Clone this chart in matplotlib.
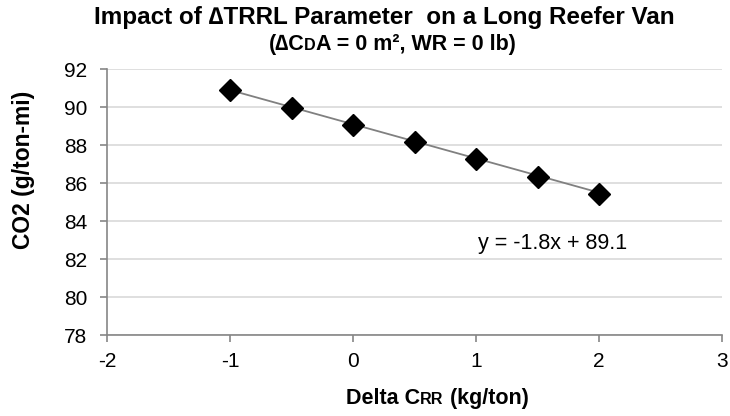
import matplotlib
matplotlib.use("Agg")
import matplotlib.pyplot as plt
from matplotlib.offsetbox import TextArea, HPacker, AnchoredOffsetbox

# ============================== Data

delta_crr = [-1.0, -0.5, 0.0, 0.5, 1.0, 1.5, 2.0]
co2 = [90.88, 89.98, 89.06, 88.14, 87.25, 86.33, 85.42]
slope, intercept = -1.8, 89.1
x_ticks = [-2, -1, 0, 1, 2, 3]
y_ticks = [78, 80, 82, 84, 86, 88, 90, 92]

plt.rcParams["font.family"] = ["Liberation Sans", "DejaVu Sans"]


def small_caps_label(fig, parts, xy, size):
    """Pack text pieces (texte, taille relative) on one baseline."""
    boxes = [TextArea(t, textprops=dict(fontsize=size * r, fontweight="bold"))
             for t, r in parts]
    pack = HPacker(children=boxes, align="baseline", pad=0, sep=0)
    box = AnchoredOffsetbox(loc="center", child=pack, frameon=False,
                            bbox_to_anchor=xy, bbox_transform=fig.transFigure,
                            pad=0, borderpad=0)
    fig.add_artist(box)


fig = plt.figure(figsize=(7.3, 4.16), dpi=100)
ax = fig.add_axes([0.1466, 0.1947, 0.8425, 0.639])

# trendline + points
xs = [delta_crr[0], delta_crr[-1]]
ax.plot(xs, [slope * x + intercept for x in xs], color="#808080", lw=1.3, zorder=2)
ax.plot(delta_crr, co2, linestyle="none", marker="D", ms=11, color="black", zorder=3)

ax.text(1.62, 82.8, "y = -1.8x + 89.1", fontsize=15.5, ha="center", va="center")

ax.set_xlim(-2, 3)
ax.set_ylim(78, 92)
ax.set_xticks(x_ticks)
ax.set_yticks(y_ticks)
ax.set_xticklabels([str(t) for t in x_ticks], fontsize=15)
ax.set_yticklabels([str(t) for t in y_ticks], fontsize=15)
ax.grid(axis="y", color="#d9d9d9", lw=1.2)
ax.set_axisbelow(True)
for s in ["top", "right"]:
    ax.spines[s].set_visible(False)
for s in ["left", "bottom"]:
    ax.spines[s].set_color("#868686")
    ax.spines[s].set_linewidth(1.2)
ax.tick_params(colors="#868686", labelcolor="black", length=5, width=1.2)
ax.tick_params(axis="y", pad=9)
ax.tick_params(axis="x", pad=7)

fig.text(24 / 730, 0.591, "CO2 (g/ton-mi)", rotation=90, ha="center", va="center",
         fontsize=16.5, fontweight="bold")

fig.text(0.527, 0.957, "Impact of \u2206TRRL Parameter  on a Long Reefer Van",
         ha="center", va="center", fontsize=17.5, fontweight="bold")
small_caps_label(fig, [("(\u2206C", 1.0), ("D", 0.75), ("A = 0 m\u00b2, WR = 0 lb)", 1.0)],
                 (0.537, 0.892), 15.5)
small_caps_label(fig, [("Delta C", 1.0), ("RR", 0.75), (" (kg/ton)", 1.0)],
                 (0.599, 0.043), 15.5)

fig.savefig("out.png", dpi=100)
